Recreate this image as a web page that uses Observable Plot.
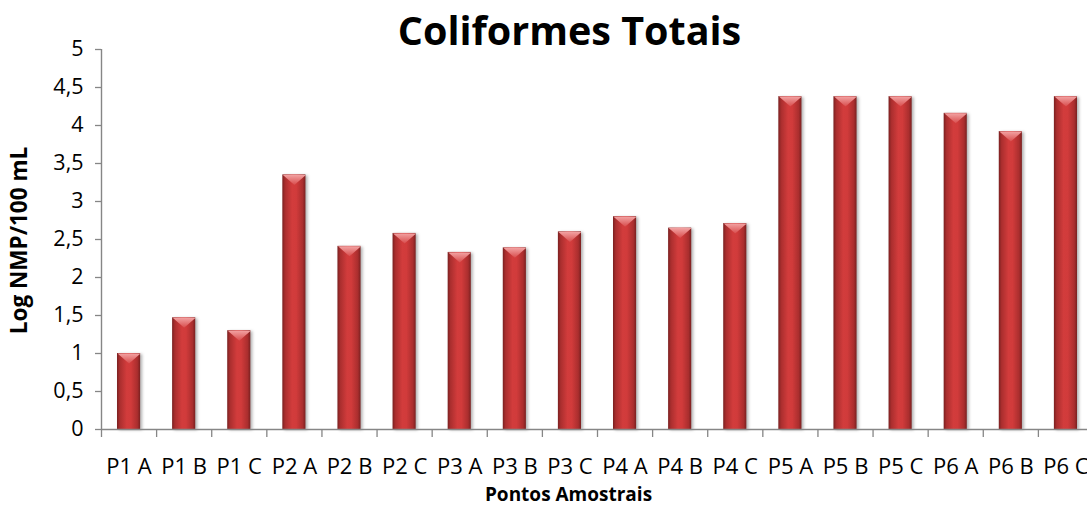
<!DOCTYPE html>
<html>
<head>
<meta charset="utf-8">
<script src="https://cdn.jsdelivr.net/npm/d3@7"></script>
<script src="https://cdn.jsdelivr.net/npm/@observablehq/plot@0.6"></script>
<style>
  html, body { margin: 0; padding: 0; background: #fff; }
  #grafico svg { display: block; }
</style>
</head>
<body>
<div id="grafico"></div>
<script>
// Pontos de amostragem (eixo X)
const categorias = [
  "P1 A", "P1 B", "P1 C", "P2 A", "P2 B", "P2 C",
  "P3 A", "P3 B", "P3 C", "P4 A", "P4 B", "P4 C",
  "P5 A", "P5 B", "P5 C", "P6 A", "P6 B", "P6 C"
];

// Log NMP/100 mL para cada ponto
const valores = [
  1.00, 1.47, 1.30, 3.35, 2.41, 2.58,
  2.33, 2.39, 2.60, 2.80, 2.65, 2.71,
  4.38, 4.38, 4.38, 4.16, 3.92, 4.38
];

// Marcas do eixo Y
const ticksY = [0, 0.5, 1, 1.5, 2, 2.5, 3, 3.5, 4, 4.5, 5];

const titulo = "Coliformes Totais";
const rotuloX = "Pontos Amostrais";
const rotuloY = "Log NMP/100 mL";

const dados = categorias.map((ponto, i) => ({ ponto, i, valor: valores[i] }));

const cinza = "#868686";
const fonte = "'Open Sans', Lato, sans-serif";
const virgula = v => String(v).replace(".", ",");

// Chanfro triangular no topo de cada barra
const chanfro = {
  draw(ctx) {
    ctx.moveTo(-11.5, 0);
    ctx.lineTo(11.5, 0);
    ctx.lineTo(0, 10);
    ctx.closePath();
  }
};

const svg = Plot.plot({
  width: 1087,
  height: 508,
  marginLeft: 101,
  marginRight: -6,
  marginTop: 49,
  marginBottom: 79,
  style: { fontFamily: fonte, color: "#000", background: "#fff" },
  x: { domain: [0, categorias.length], axis: null },
  y: { domain: [0, 5], axis: null },
  marks: [
    Plot.rectY(dados, {
      x1: "i",
      x2: d => d.i + 1,
      y: "valor",
      insetLeft: 16,
      insetRight: 16,
      fill: "url(#gradBarra)"
    }),
    Plot.dot(dados, {
      x: d => d.i + 0.5,
      y: "valor",
      symbol: chanfro,
      r: 5,
      fill: "url(#gradChanfro)",
      stroke: "none"
    }),
    Plot.ruleY([0], { stroke: cinza, strokeWidth: 1.4 }),
    Plot.ruleX([0], { stroke: cinza, strokeWidth: 1.4 }),
    Plot.axisY({
      ticks: ticksY,
      tickFormat: virgula,
      tickSize: 6,
      tickPadding: 12,
      stroke: cinza,
      strokeWidth: 1.3,
      fontSize: 21.5,
      label: null
    }),
    Plot.axisX({
      ticks: d3.range(categorias.length + 1),
      tickFormat: () => "",
      tickSize: 8,
      stroke: cinza,
      strokeWidth: 1.3,
      label: null
    }),
    Plot.axisX({
      ticks: d3.range(categorias.length).map(i => i + 0.5),
      tickFormat: v => categorias[Math.floor(v)],
      tickSize: 0,
      tickPadding: 29,
      fontSize: 22,
      label: null
    }),
    Plot.text([titulo], {
      frameAnchor: "top-left",
      dx: 468,
      dy: -17,
      lineAnchor: "middle",
      fontSize: 39.5,
      fontWeight: "bold",
      textAnchor: "middle"
    }),
    Plot.text([rotuloX], {
      frameAnchor: "bottom-left",
      dx: 467,
      dy: 65,
      lineAnchor: "middle",
      fontSize: 19,
      fontWeight: "bold",
      textAnchor: "middle"
    }),
    Plot.text([rotuloY], {
      frameAnchor: "left",
      dx: -82,
      dy: 1,
      rotate: -90,
      lineAnchor: "middle",
      fontSize: 22.5,
      fontWeight: "bold",
      textAnchor: "middle"
    })
  ]
});

// Gradientes das barras
const defs = d3.select(svg).insert("defs", ":first-child");
const gBarra = defs.append("linearGradient")
  .attr("id", "gradBarra").attr("x1", 0).attr("x2", 1).attr("y1", 0).attr("y2", 0);
[[0, "#7a2020"], [0.12, "#aa2e2e"], [0.42, "#d23c3c"], [0.6, "#d13b3b"], [0.88, "#aa2e2e"], [1, "#7a2020"]]
  .forEach(([o, c]) => gBarra.append("stop").attr("offset", o).attr("stop-color", c));
const gChanfro = defs.append("linearGradient")
  .attr("id", "gradChanfro").attr("x1", 0).attr("x2", 0).attr("y1", 0).attr("y2", 1);
[[0, "#f2a2a2"], [1, "#d84c4c"]]
  .forEach(([o, c]) => gChanfro.append("stop").attr("offset", o).attr("stop-color", c));

d3.select(svg).selectAll("g[aria-label='rect'] rect")
  .style("filter", "drop-shadow(2px 1px 1.5px rgba(0,0,0,0.3))");

document.getElementById("grafico").appendChild(svg);
</script>
</body>
</html>
